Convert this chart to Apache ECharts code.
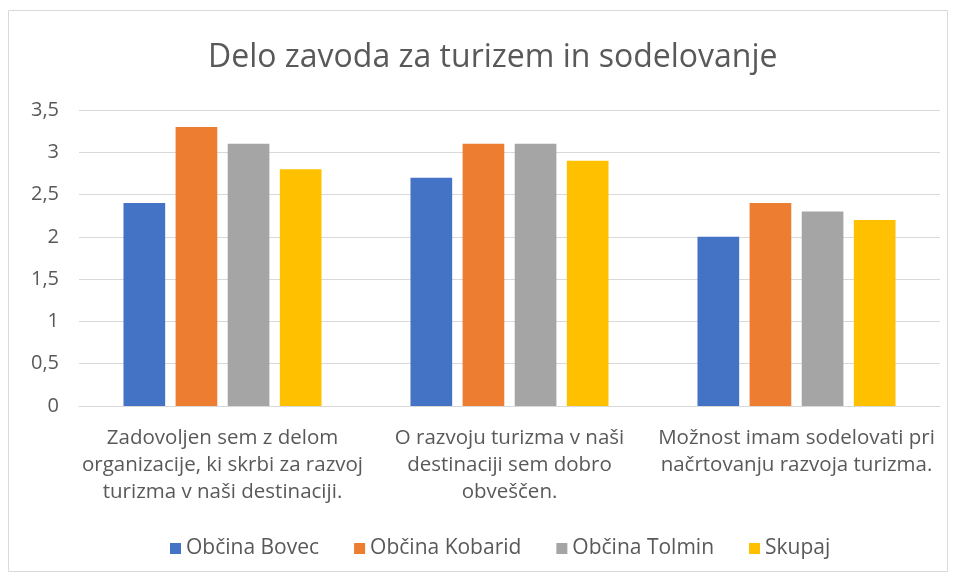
<!DOCTYPE html>
<html>
<head>
<meta charset="utf-8">
<script src="https://cdn.jsdelivr.net/npm/echarts@6/dist/echarts.min.js"></script>
<style>
  html, body { margin: 0; padding: 0; background: #fff; }
  #chart { width: 957px; height: 580px; }
</style>
</head>
<body>
<div id="chart"></div>
<script>
const categories = [
  "Zadovoljen sem z delom\norganizacije, ki skrbi za razvoj\nturizma v naši destinaciji.",
  "O razvoju turizma v naši\ndestinaciji sem dobro\nobveščen.",
  "Možnost imam sodelovati pri\nnačrtovanju razvoja turizma."
];
const seriesNames = ["Občina Bovec", "Občina Kobarid", "Občina Tolmin", "Skupaj"];
const bovec = [2.4, 2.7, 2.0];
const kobarid = [3.3, 3.1, 2.4];
const tolmin = [3.1, 3.1, 2.3];
const skupaj = [2.8, 2.9, 2.2];
const colors = ["#4472C4", "#ED7D31", "#A5A5A5", "#FFC000"];

const values = [bovec, kobarid, tolmin, skupaj];
const font = "'Open Sans', 'Noto Sans', sans-serif";

const chart = echarts.init(document.getElementById("chart"));
chart.setOption({
  animation: false,
  color: colors,
  textStyle: { fontFamily: font },
  title: {
    text: "Delo zavoda za turizem in sodelovanje",
    left: 203,
    top: 37,
    textStyle: { fontFamily: font, fontSize: 32, fontWeight: "normal", color: "#595959" }
  },
  graphic: [{
    type: "rect",
    shape: { x: 8.5, y: 10.5, width: 939, height: 561 },
    style: { fill: "none", stroke: "#d9d9d9", lineWidth: 1 },
    silent: true
  }],
  legend: {
    bottom: 16,
    left: 165,
    itemWidth: 11,
    itemHeight: 11,
    itemGap: 35,
    icon: "rect",
    textStyle: { fontFamily: font, fontSize: 21, color: "#595959" },
    data: seriesNames
  },
  grid: { left: 79, right: 17, top: 110, bottom: 174 },
  xAxis: {
    type: "category",
    data: categories,
    axisLine: { lineStyle: { color: "#d9d9d9" } },
    axisTick: { show: false },
    axisLabel: {
      interval: 0,
      margin: 19,
      fontFamily: font,
      fontSize: 20.5,
      lineHeight: 27,
      color: "#595959",
      align: "center"
    }
  },
  yAxis: {
    type: "value",
    min: 0,
    max: 3.5,
    interval: 0.5,
    axisLine: { show: false },
    axisTick: { show: false },
    splitLine: { lineStyle: { color: "#d9d9d9" } },
    axisLabel: {
      margin: 20,
      fontFamily: font,
      fontSize: 20,
      color: "#595959",
      formatter: v => String(v).replace(".", ",")
    }
  },
  series: seriesNames.map((name, i) => ({
    name: name,
    type: "bar",
    data: values[i],
    barGap: "25%",
    barCategoryGap: "31%"
  }))
});
</script>
</body>
</html>
